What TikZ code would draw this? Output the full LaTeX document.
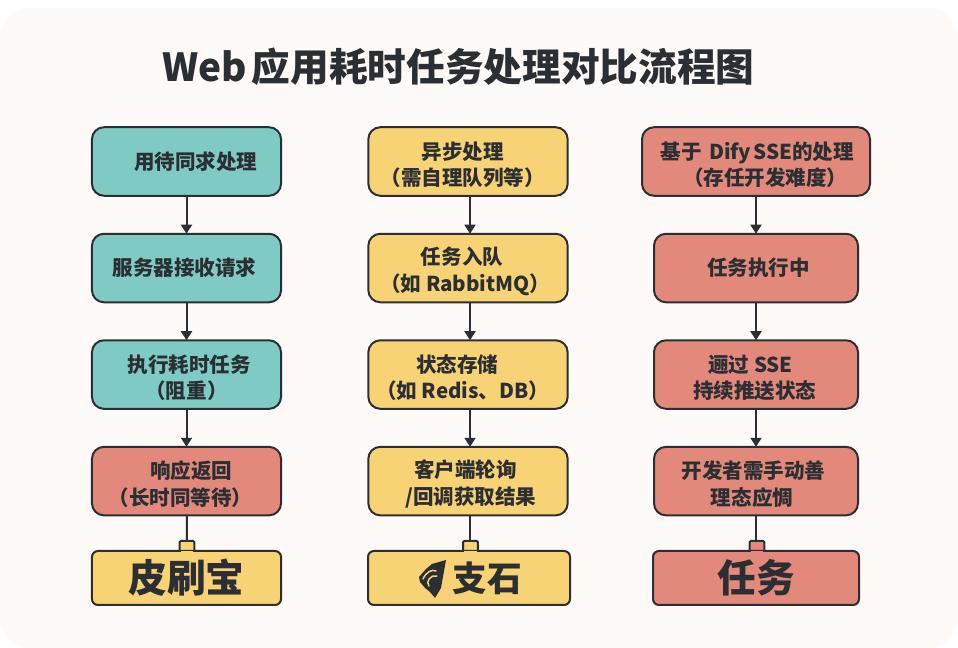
\documentclass[tikz,border=0pt]{standalone}
\usepackage{fontspec}
\setmainfont{Noto Sans CJK SC}
\usepackage{xcolor}
\usetikzlibrary{arrows.meta,calc,positioning}
\definecolor{cBg}{HTML}{FDFAF7}
\definecolor{cTeal}{HTML}{7FCBC4}
\definecolor{cGold}{HTML}{F8D376}
\definecolor{cRed}{HTML}{E2897B}
\definecolor{cInk}{HTML}{2B2F33}
\newcommand{\nudge}[1]{\hspace*{#1pt}}
\newcommand{\lowered}{\rule{0pt}{18pt}}
\tikzset{
  stepbox/.style={draw=cInk, line width=1.5pt, rounded corners=9pt, outer sep=0pt, inner sep=0pt,
    minimum width=#1, minimum height=51.4pt, align=center, text=cInk,
    font=\fontsize{15.4}{20}\selectfont\bfseries},
  endbox/.style={draw=cInk, line width=1.5pt, rounded corners=4.5pt, outer sep=0pt, inner sep=0pt,
    minimum width=#1, minimum height=40.5pt, align=center, text=cInk,
    font=\fontsize{29}{34}\selectfont\bfseries},
  tabbox/.style={draw=cInk, line width=1.5pt, rounded corners=1pt, outer sep=0pt, inner sep=0pt,
    minimum width=11pt, minimum height=8.5pt},
  flow/.style={draw=cInk, line width=1.5pt, -{Triangle[width=8.2pt,length=6.8pt]}},
  tabline/.style={draw=cInk, line width=1.5pt},
}
\begin{document}
\begin{tikzpicture}[x=0.75pt, y=-0.75pt, node distance=28.5pt]
  \useasboundingbox (0,0) rectangle (958,648);
  % fundo
  \fill[cBg] (0,8) [rounded corners=22pt] -- (0,648) -- (958,648) -- (958,8) -- cycle;
  \node[text=cInk, font=\fontsize{29}{34}\selectfont\bfseries] (title) at (458.5,67) {Web\hspace{0.12em}应用耗时任务处理对比流程图};
  % coluna 1
  \node[stepbox=141.8pt, fill=cTeal] (a1) at (186.5,161.5) {\nudge{14}用待同求处理};
  \node[stepbox=141.8pt, fill=cTeal, below=of a1] (a2) {\nudge{-3}服务器接收请求};
  \node[stepbox=141.8pt, fill=cTeal, below=of a2] (a3) {\lowered\nudge{4}执行耗时任务\\（阻重）};
  \node[stepbox=141.8pt, fill=cRed, below=of a3] (a4) {\lowered\nudge{7}响应返回\\\nudge{-9}（长时同等待）};
  \node[tabbox, fill=cGold] (atab) at (187,546.5) {};
  \node[endbox=141.8pt, fill=cGold] (a5) at (186.5,578) {皮刷宝};
  % coluna 2
  \node[stepbox=149.5pt, fill=cGold] (b1) at (468,161.5) {\lowered\nudge{-8}异步处理\\\nudge{-8}（需自理队列等）};
  \node[stepbox=149.5pt, fill=cGold, below=of b1] (b2) {\lowered\nudge{-9}任务入队\\\nudge{-4}（如 RabbitMQ）};
  \node[stepbox=149.5pt, fill=cGold, below=of b2] (b3) {\lowered\nudge{-16}状态存储\\\nudge{-8}（如 Redis、DB）};
  \node[stepbox=149.5pt, fill=cGold, below=of b3] (b4) {\lowered\nudge{-4}客户端轮询\\\nudge{4}/回调获取结果};
  \node[tabbox, fill=cGold] (btab) at (470.5,546.5) {};
  \node[endbox=151.5pt, fill=cGold, font=\fontsize{26}{30}\selectfont\bfseries] (b5) at (469,578) {\nudge{27}支石};
  % coluna 3
  \node[stepbox=171pt, fill=cRed] (c1) at (756,161.5) {\lowered\nudge{2}基于\hspace{0.35em}Dify\hspace{0.1em}SSE的处理\\\nudge{14}（存任开发难度）};
  \node[stepbox=153pt, fill=cRed, below=of c1] (c2) {\nudge{4}任务执行中};
  \node[stepbox=153pt, fill=cRed, below=of c2] (c3) {\lowered\nudge{-8}逦过 SSE\\\nudge{-2}持续推送状态};
  \node[stepbox=153pt, fill=cRed, below=of c3] (c4) {\lowered\nudge{-4}开发者需手动善\\\nudge{-6}理态应惆};
  \node[tabbox, fill=cRed] (ctab) at (757,546.5) {};
  \node[endbox=154.5pt, fill=cRed] (c5) at (756,578) {任务};
  % juntas
  \fill[cGold] ($(atab.south west)+(0.75pt,-1.5pt)$) rectangle ($(atab.south east)+(-0.75pt,1pt)$);
  \fill[cGold] ($(btab.south west)+(0.75pt,-1.5pt)$) rectangle ($(btab.south east)+(-0.75pt,1pt)$);
  \fill[cRed] ($(ctab.south west)+(0.75pt,-1.5pt)$) rectangle ($(ctab.south east)+(-0.75pt,1pt)$);
  % setas
  \draw[flow] (a1) -- (a2);
  \draw[flow] (a2) -- (a3);
  \draw[flow] (a3) -- (a4);
  \draw[tabline] (a4) -- (atab);
  \coordinate (bx) at (470,0);
  \draw[flow] (b1.south -| bx) -- (b2.north -| bx);
  \draw[flow] (b2.south -| bx) -- (b3.north -| bx);
  \draw[flow] (b3.south -| bx) -- (b4.north -| bx);
  \draw[tabline] (b4.south -| bx) -- (btab.north -| bx);
  \draw[flow] (c1) -- (c2);
  \draw[flow] (c2) -- (c3);
  \draw[flow] (c3) -- (c4);
  \draw[tabline] (c4) -- (ctab.north -| c4);
  % marca
  \fill[cInk] (446,560) -- (432,564) -- (426,569) -- (419,577) -- (420,582) -- (425,588) -- (430,592) -- (435,598) -- (441,588) -- cycle;
  \draw[cGold, line width=1.1pt, line cap=round] (423,579) .. controls (426,572) and (432,569) .. (436,571) (429,586) .. controls (425,582) and (431,574) .. (437,576);
\end{tikzpicture}
\end{document}
